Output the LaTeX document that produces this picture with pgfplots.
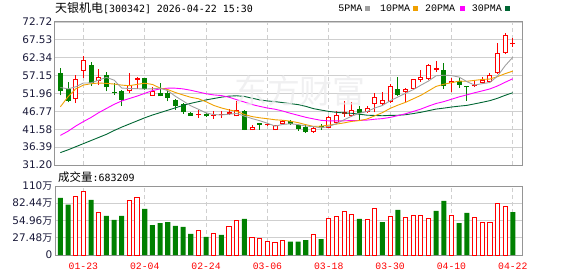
\documentclass[border=0pt]{standalone}
\usepackage{fontspec}
\setmainfont{DejaVu Sans}
\newfontfamily\cjk{Noto Sans CJK SC}
\newfontfamily\dmono{DejaVu Sans Mono}
\newfontfamily\lmono{Liberation Mono}
\usepackage{pgfplots}
\pgfplotsset{compat=1.18}
\usepackage{pgfplotstable}
\usetikzlibrary{calc}

\definecolor{kred}{HTML}{FF0000}
\definecolor{kgreen}{HTML}{008000}
\definecolor{maA}{HTML}{A0A0A0}
\definecolor{maB}{HTML}{F0A000}
\definecolor{maC}{HTML}{FF00FF}
\definecolor{maD}{HTML}{006633}
\definecolor{gridc}{HTML}{CFCFCF}
\definecolor{axisc}{HTML}{959595}
\definecolor{labc}{HTML}{1A1A3A}
\definecolor{wmark}{HTML}{ECECEE}

\newcommand{\wan}{{\cjk\fontsize{10}{10}\selectfont 万}}

\pgfplotstableread{
i o h l c
2 50.35 57.36 49.20 56.11
3 58.61 62.84 56.60 61.69
5 55.53 59.09 54.38 56.69
9 52.55 57.84 52.07 54.29
10 55.92 56.88 53.23 56.40
12 51.30 53.71 51.30 52.55
18 45.74 47.27 44.87 46.02
20 45.50 46.79 44.58 45.80
21 45.73 46.79 44.87 46.00
22 46.02 47.47 45.83 46.60
23 45.35 49.67 45.35 47.08
25 41.31 42.75 41.31 42.18
27 42.70 43.30 42.40 42.90
28 41.31 42.95 41.30 42.95
29 43.14 44.39 43.10 43.91
33 40.83 42.65 40.54 41.99
35 41.99 45.54 41.99 45.16
36 43.43 46.79 43.23 45.83
37 46.10 49.67 45.16 46.50
38 45.35 49.39 45.16 47.27
40 46.60 48.23 46.31 47.75
41 48.90 52.07 46.50 50.92
42 48.90 52.27 48.70 50.15
43 49.39 54.77 49.20 54.19
45 52.27 53.52 49.38 53.23
46 53.33 56.30 53.00 56.11
47 55.92 58.80 55.44 56.69
48 56.17 60.50 56.00 60.25
49 58.80 61.40 58.32 59.28
51 54.96 56.40 52.27 55.63
54 54.00 55.63 53.80 54.29
55 54.96 56.69 54.96 55.92
56 55.44 57.84 54.96 57.36
57 57.84 66.68 57.55 63.61
58 63.80 69.57 63.42 68.90
59 66.30 67.93 65.53 66.68
}\updata

\pgfplotstableread{
i o h l c
0 57.84 59.38 51.40 52.56
1 53.23 55.25 49.39 49.87
4 60.24 61.20 54.19 54.96
6 57.36 58.13 52.56 53.71
7 52.36 55.15 51.60 52.20
8 52.75 53.00 48.42 50.15
11 56.59 56.60 53.00 53.23
13 52.07 55.15 51.10 51.11
14 52.08 53.04 49.67 50.63
15 50.15 50.35 47.27 48.23
16 48.90 49.20 46.10 46.50
17 46.31 46.50 45.50 45.54
19 46.00 46.30 45.15 45.35
24 46.79 47.27 41.30 41.50
26 43.43 43.45 41.50 42.95
30 43.90 44.39 42.95 43.14
31 42.95 42.95 41.20 41.79
32 42.18 42.75 40.54 40.83
34 42.40 43.10 41.50 42.20
39 47.56 48.23 44.39 46.31
44 53.23 56.69 51.12 51.60
50 58.80 60.73 53.23 54.00
52 55.63 56.40 53.52 54.48
53 54.00 54.00 49.87 53.71
}\downdata

\pgfplotstableread{
i m5 m10 m20 m30
0 53.70 48.10 39.80 34.80
1 53.30 51.00 41.00 35.60
2 53.90 53.30 42.50 36.50
3 55.00 54.40 43.80 37.40
4 55.04 54.80 45.00 38.30
5 55.86 55.00 46.40 39.20
6 56.63 54.90 47.60 40.10
7 55.85 54.70 48.80 41.20
8 53.54 54.40 49.80 42.20
9 53.41 54.22 50.50 43.10
10 53.35 54.61 51.20 44.00
11 53.25 54.94 52.00 44.90
12 53.32 54.59 52.80 45.70
13 53.52 53.53 53.30 46.40
14 52.78 53.10 53.50 47.10
15 51.15 52.25 53.50 47.80
16 49.80 51.53 53.30 48.50
17 48.40 50.86 52.90 49.10
18 47.38 50.45 52.40 49.60
19 46.33 49.56 51.89 50.10
20 45.84 48.50 51.55 50.50
21 45.74 47.77 51.36 50.90
22 45.95 47.18 50.88 51.20
23 46.17 46.78 50.15 51.30
24 45.40 45.86 49.48 51.10
25 44.67 45.26 48.75 50.60
26 44.06 44.90 48.22 50.10
27 43.32 44.64 47.75 49.80
28 42.50 44.33 47.39 49.60
29 42.98 44.19 46.87 49.32
30 43.17 43.92 46.21 49.01
31 42.94 43.50 45.64 48.74
32 42.52 42.92 45.05 48.23
33 42.33 42.41 44.59 47.57
34 41.99 42.48 44.17 47.15
35 42.39 42.78 44.02 46.76
36 43.20 43.07 43.99 46.50
37 44.34 43.43 44.03 46.31
38 45.39 43.86 44.10 46.21
39 46.21 44.10 44.14 45.95
40 46.73 44.56 44.24 45.66
41 47.75 45.48 44.49 45.58
42 48.48 46.41 44.67 45.50
43 49.86 47.63 45.02 45.61
44 50.92 48.57 45.53 45.64
45 52.02 49.38 46.08 45.80
46 53.06 50.40 46.74 46.13
47 54.36 51.42 47.43 46.50
48 55.58 52.72 48.29 46.97
49 57.11 54.02 49.06 47.44
50 57.27 54.64 49.60 47.71
51 57.17 55.11 50.29 48.03
52 56.73 55.55 50.98 48.29
53 55.42 55.50 51.56 48.51
54 54.42 55.77 52.17 48.94
55 54.81 56.04 52.71 49.40
56 55.15 56.16 53.28 49.88
57 56.98 56.85 54.14 50.57
58 60.02 57.72 55.22 51.43
59 62.49 58.46 56.24 52.19
}\matable

\pgfplotstableread{
i v
2 93.6
3 101.5
5 68.1
9 87.2
10 92.0
18 39.3
20 35.1
22 45.7
23 55.3
25 28.2
26 26.6
27 22.3
28 20.7
29 23.9
33 33.0
35 58.5
36 61.7
37 69.6
38 65.4
40 56.9
41 74.4
43 61.7
45 60.1
46 63.3
47 63.3
48 58.5
51 63.3
54 60.1
55 52.1
56 52.1
57 82.4
58 77.6
}\volup

\pgfplotstableread{
i v
0 90.9
1 80.3
4 87.7
6 62.2
7 55.8
8 62.2
11 73.4
12 47.8
13 51.0
14 52.6
15 46.3
16 44.7
17 33.5
19 28.7
21 31.9
24 57.4
30 21.3
31 21.3
32 23.9
34 25.5
39 57.4
42 52.6
44 71.8
49 70.2
50 86.1
52 51.0
53 67.0
59 68.32
}\voldown

\pgfplotsset{
  kbase/.style={
    scale only axis, width=467bp,
    xmin=-0.7, xmax=60.2,
    enlargelimits=false,
    axis line style={draw=axisc, line width=1bp},
    major tick length=0pt,
    xtick={3,11,19,27,35,43,51,59},
    xmajorgrids, ymajorgrids,
    major x grid style={draw=gridc, line width=0.9bp, dash pattern=on 4bp off 3bp},
    major y grid style={draw=gridc, line width=0.9bp},
    yticklabel style={font=\fontsize{10.5}{12}\selectfont, text=labc, anchor=east, inner sep=0pt, xshift=-2.5bp},
  },
  wick/.style={draw=none, mark=none, forget plot,
    error bars/.cd, y dir=plus, y explicit, error mark=none,
    error bar style={color=#1, line width=1bp, line cap=butt}},
  body/.style 2 args={draw=none, mark=none, forget plot,
    error bars/.cd, y dir=plus, y explicit, error mark=none,
    error bar style={color=#1, line width=#2, line cap=butt}},
}

\begin{document}
\begin{tikzpicture}
% price panel
\begin{axis}[kbase, name=price,
  at={(0bp,0bp)}, anchor=south west, height=143bp,
  ymin=31.2, ymax=72.72,
  xticklabels={},
  ytick={31.20,36.39,41.58,46.77,51.96,57.15,62.34,67.53,72.72},
  yticklabels={31.20,36.39,41.58,46.77,51.96,57.15,62.34,67.53,72.72},
]
\addplot[wick=kgreen] table[x=i, y=l, y error plus expr={\thisrow{h}-\thisrow{l}}] {\downdata};
\addplot[body={kgreen}{5bp}] table[x=i, y=c, y error plus expr={max(\thisrow{o}-\thisrow{c},0.3)}] {\downdata};
\addplot[wick=kred] table[x=i, y=l, y error plus expr={\thisrow{h}-\thisrow{l}}] {\updata};
\addplot[body={kred}{5bp}] table[x=i, y=o, y error plus expr={max(\thisrow{c}-\thisrow{o},0.3)}] {\updata};
\addplot[body={white}{3bp}] table[x=i, y expr={\thisrow{o}+0.29}, y error plus expr={max(\thisrow{c}-\thisrow{o}-0.58,0)}] {\updata};
\addplot[maD, line width=0.9bp, mark=none] table[x=i, y=m30] {\matable};
\addplot[maC, line width=0.9bp, mark=none] table[x=i, y=m20] {\matable};
\addplot[maB, line width=0.9bp, mark=none] table[x=i, y=m10] {\matable};
\addplot[maA, line width=0.9bp, mark=none] table[x=i, y=m5] {\matable};
\end{axis}

% volume panel
\begin{axis}[kbase, name=vol,
  at={($(price.south west)+(0bp,-90bp)$)}, anchor=south west, height=69bp,
  ymin=0, ymax=110,
  xticklabels={01-23,02-04,02-24,03-06,03-18,03-30,04-10,04-22},
  xticklabel style={font=\lmono\fontsize{9.8}{10}\selectfont, text=kred, anchor=center, inner sep=0pt, yshift=-11.5bp},
  ytick={0,27.48,54.96,82.44,110},
  yticklabels={0,27.48\wan,54.96\wan,82.44\wan,110\wan},
]
\addplot[ybar, bar width=0.56, bar shift=0pt, draw=kred, fill=white, line width=0.9bp] table[x=i, y=v] {\volup};
\addplot[ybar, bar width=0.66, bar shift=0pt, draw=none, fill=kgreen] table[x=i, y=v] {\voldown};
\end{axis}

\coordinate (P) at ($(price.south west)+(-55bp,-111bp)$);
\begin{scope}[shift={(P)}, x=1bp, y=1bp]
% watermark (behind nothing important, light)
\node[anchor=center, text=wmark, inner sep=0pt, opacity=0.8] at (300,185)
  {\cjk\fontsize{33}{33}\selectfont 东方财富};
% title and legend
\node[anchor=west, inner sep=0pt] at (55,267.6)
  {{\cjk\fontsize{12}{12}\selectfont 天银机电}{\dmono\fontsize{10}{10}\selectfont [300342] 2026-04-22 15:30}};
\node[anchor=west, inner sep=0pt] at (338.3,267.6) {\lmono\fontsize{10}{10}\selectfont 5PMA};
\fill[maA] (365,265.2) rectangle (370.2,269.6);
\node[anchor=west, inner sep=0pt] at (380,267.6) {\lmono\fontsize{10}{10}\selectfont 10PMA};
\fill[maB] (413.3,265.2) rectangle (418.5,269.6);
\node[anchor=west, inner sep=0pt] at (425,267.6) {\lmono\fontsize{10}{10}\selectfont 20PMA};
\fill[maC] (460,265.2) rectangle (465.2,269.6);
\node[anchor=west, inner sep=0pt] at (471.7,267.6) {\lmono\fontsize{10}{10}\selectfont 30PMA};
\fill[maD] (505,265.2) rectangle (510.2,269.6);
% volume title
\node[anchor=west, inner sep=0pt] at (58,99)
  {{\cjk\fontsize{11.5}{12}\selectfont 成交量}{\dmono\fontsize{10}{10}\selectfont :683209}};
\end{scope}

\pgfresetboundingbox
\path[use as bounding box] (P) rectangle ++(578bp,276bp);
\end{tikzpicture}
\end{document}
